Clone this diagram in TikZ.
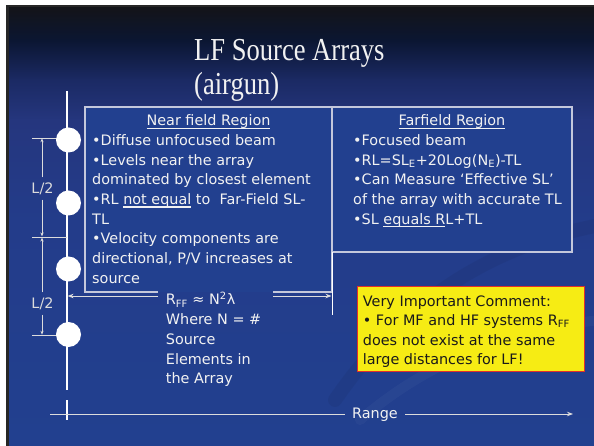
\documentclass[tikz,border=0pt]{standalone}
\usepackage{fontspec}
\newfontfamily\tah{DejaVu Sans}
\newfontfamily\ttlf{Liberation Serif}
\usetikzlibrary{arrows.meta}
\definecolor{bgA}{HTML}{131419}
\definecolor{bgB}{HTML}{0B1632}
\definecolor{bgC}{HTML}{1B2A64}
\definecolor{bgD}{HTML}{25367E}
\definecolor{bgE}{HTML}{233C8A}
\definecolor{bgF}{HTML}{22408F}
\definecolor{framegray}{HTML}{262626}
\definecolor{boxblue}{HTML}{22408F}
\definecolor{boxline}{HTML}{C4C8DC}
\definecolor{txtw}{HTML}{F2F2F2}
\definecolor{dimc}{HTML}{DCDCDC}
\definecolor{ylw}{HTML}{F6EC14}
\definecolor{ylwline}{HTML}{E0302A}
\definecolor{darktxt}{HTML}{1A1A1A}
\newcommand\myul[1]{\setbox0\hbox{#1}\rlap{\rule[-3pt]{\wd0}{1.4pt}}\box0\relax}
\begin{document}
\begin{tikzpicture}[x=1pt,y=-1pt,
  txt/.style={anchor=base west,inner sep=0pt,text=txtw,font=\tah\fontsize{14.4}{17}\selectfont},
  ctxt/.style={txt,anchor=base},
  ytxt/.style={txt,text=darktxt},
  ttl/.style={anchor=base west,inner sep=0pt,text=txtw,font=\ttlf\fontsize{32}{34}\selectfont},
  dimlbl/.style={inner xsep=1pt,inner ysep=5pt,text=dimc,font=\tah\fontsize{14.4}{17}\selectfont},
  dimline/.style={draw=dimc,line width=0.8pt,-{Stealth[length=4pt,width=3.2pt]}},
  ticklinestyle/.style={draw=dimc,line width=0.9pt},
  element/.style={circle,fill=white,minimum size=25pt,inner sep=0pt},
  axisline/.style={draw=white,line width=1.2pt},
  bigarrow/.style={draw=dimc,line width=0.9pt,-{Stealth[length=6pt,width=4.5pt]}},
  regionline/.style={draw=boxline,line width=1.2pt}]
\useasboundingbox (0,0) rectangle (594,446);
% background
\fill[white] (0,0) rectangle (594,446);
\fill[framegray] (6,5) rectangle (594,446);
\shade[top color=bgA,bottom color=bgB] (9,8) rectangle (594,40.5);
\shade[top color=bgB,bottom color=bgC] (9,40) rectangle (594,80.5);
\shade[top color=bgC,bottom color=bgD] (9,80) rectangle (594,120.5);
\shade[top color=bgD,bottom color=bgE] (9,120) rectangle (594,220.5);
\shade[top color=bgE,bottom color=bgF] (9,220) rectangle (594,446);
% faint swooshes
\draw[black,opacity=0.05,line width=14pt,line cap=round] (335,400) .. controls (390,320) and (470,250) .. (600,225);
\draw[white,opacity=0.03,line width=10pt,line cap=round] (360,420) .. controls (430,360) and (510,330) .. (600,320);
% title
\node[ttl] (ttl1) at (194,61) {\scalebox{0.83}[1]{LF Source Arrays}};
\node[ttl] (ttl2) at (194,95) {\scalebox{0.83}[1]{(airgun)}};
% region boxes
\fill[boxblue] (85,107) rectangle (332,292);
\fill[boxblue] (332,107) rectangle (572,252);
\draw[regionline] (332,107) rectangle (572,252);
\draw[regionline] (158,292) -- (85,292) -- (85,107) -- (332,107) -- (332,292) -- (273,292);
% far field marker
\coordinate (ffm1) at (332,252);
\coordinate (ffm2) at (332,315);
\draw[axisline,line width=1pt] (ffm1) -- (ffm2);
% array axis
\coordinate (axtop) at (67,91);
\coordinate (axbot) at (67,390);
\coordinate (rtk1) at (67,400);
\coordinate (rtk2) at (67,420);
\draw[axisline] (axtop) -- (axbot);
\draw[axisline] (rtk1) -- (rtk2);
% tick lines
\coordinate (tk1) at (32,138);
\coordinate (tk2) at (32,237);
\coordinate (tk3) at (32,335);
\draw[ticklinestyle] (tk1) -- (tk1 -| axtop);
\draw[ticklinestyle] (tk2) -- (tk2 -| axtop);
\draw[ticklinestyle] (tk3) -- (tk3 -| axtop);
% elements
\node[element] (c1) at (68.5,140) {};
\node[element] (c2) at (68.5,203) {};
\node[element] (c3) at (68.5,269) {};
\node[element] (c4) at (68.5,334.5) {};
% L/2 dimensions
\node[dimlbl] (L1) at (42.5,188.5) {L/2};
\node[dimlbl] (L2) at (42.5,303.5) {L/2};
\coordinate (d1) at (42,138.3);
\coordinate (d2a) at (42,236.4);
\coordinate (d2b) at (42,237.6);
\coordinate (d3) at (42,334.7);
\draw[dimline] (L1.north -| d1) -- (d1);
\draw[dimline] (L1.south -| d1) -- (d2a);
\draw[dimline] (L2.north -| d1) -- (d2b);
\draw[dimline] (L2.south -| d1) -- (d3);
% R_FF arrow
\coordinate (axR) at (67.6,296);
\coordinate (gapL) at (158,296);
\coordinate (gapR) at (273,296);
\coordinate (ffR) at (331.5,296);
\draw[bigarrow] (gapL) -- (axR);
\draw[bigarrow] (gapR) -- (ffR);
% range axis
\coordinate (rs) at (50,414);
\coordinate (re) at (573,414);
\node[txt,anchor=base,inner xsep=7pt] (rng) at (375,418.5) {Range};
\draw[draw=dimc,line width=0.9pt] (rs) -- (rng.west |- rs);
\draw[bigarrow] (rng.east |- rs) -- (re);
% near field text
\node[ctxt] (nt) at (208.5,126) {\myul{Near field Region}};
\node[txt] (n1) at (92,145.65) {•Diffuse unfocused beam};
\node[txt] (n2) at (92,165.3) {•Levels near the array};
\node[txt] (n3) at (92,184.95) {dominated by closest element};
\node[txt] (n4) at (92,204.6) {•RL \myul{not equal} to\ \ Far-Field SL-};
\node[txt] (n5) at (92,224.25) {TL};
\node[txt] (n6) at (92,243.9) {•Velocity components are};
\node[txt] (n7) at (92,263.55) {directional, P/V increases at};
\node[txt] (n8) at (92,283.2) {source};
% far field text
\node[ctxt] (ft) at (452,126) {\myul{Farfield Region}};
\node[txt] (f1) at (353,145.65) {•Focused beam};
\node[txt] (f2) at (353,165.3) {•RL=SL\textsubscript{E}+20Log(N\textsubscript{E})-TL};
\node[txt] (f3) at (353,184.95) {•Can Measure ‘Effective SL’};
\node[txt] (f4) at (353,204.6) {of the array with accurate TL};
\node[txt] (f5) at (353,224.25) {•SL \myul{equals R}L+TL};
% R_FF text
\node[txt] (r1) at (165.7,305) {R\textsubscript{FF} ≈ N\textsuperscript{2}λ};
\node[txt] (r2) at (165.7,324.7) {Where N = \#};
\node[txt] (r3) at (165.7,344.4) {Source};
\node[txt] (r4) at (165.7,364.1) {Elements in};
\node[txt] (r5) at (165.7,383.8) {the Array};
% comment box
\node[draw=ylwline,fill=ylw,line width=0.9pt,minimum width=227pt,minimum height=85pt,inner sep=0pt,anchor=north west] (ybox) at (357,286) {};
\node[ytxt] (y1) at (362.7,306) {Very Important Comment:};
\node[ytxt] (y2) at (362.7,325.5) {• For MF and HF systems R\textsubscript{FF}};
\node[ytxt] (y3) at (362.7,345) {does not exist at the same};
\node[ytxt] (y4) at (362.7,364.5) {large distances for LF!};
\end{tikzpicture}
\end{document}
